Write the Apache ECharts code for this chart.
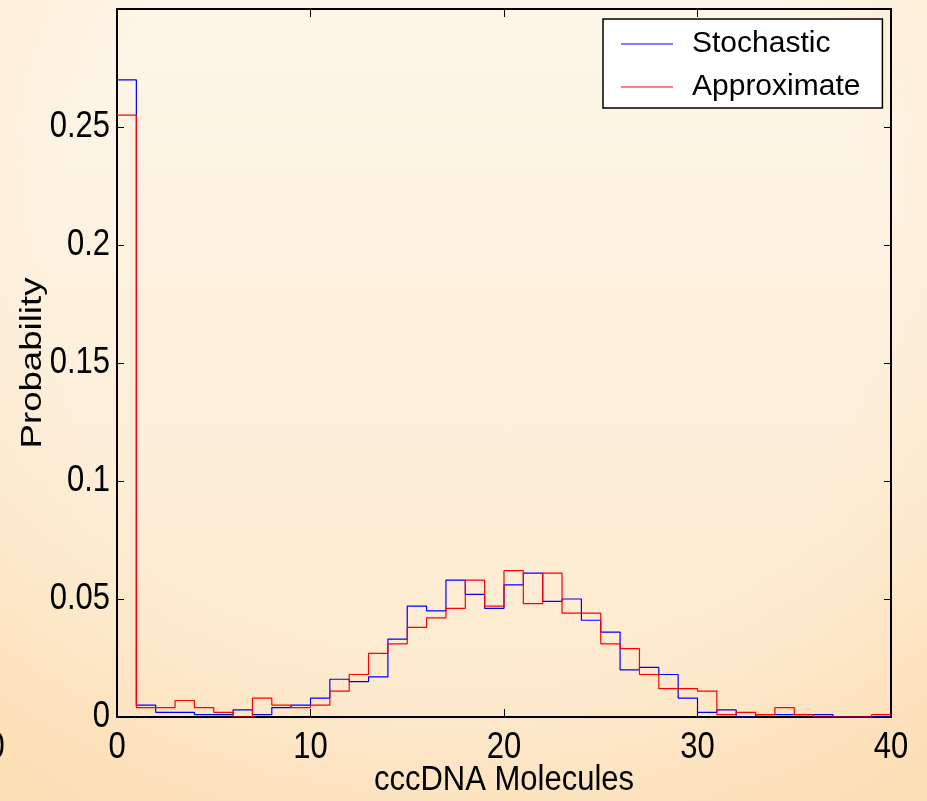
<!DOCTYPE html>
<html>
<head>
<meta charset="utf-8">
<script src="https://cdn.jsdelivr.net/npm/echarts@6/dist/echarts.min.js"></script>
<style>
  html, body { margin: 0; padding: 0; }
  body {
    width: 927px; height: 801px; overflow: hidden;
    background:
      radial-gradient(ellipse 75% 80% at 50% 35%, rgba(255,255,255,0) 60%, rgba(250,205,140,0.35) 100%),
      linear-gradient(to bottom, #fef6e9 0%, #fdf0dc 45%, #fde9cc 100%);
  }
  #chart { width: 927px; height: 801px; }
</style>
</head>
<body>
<div id="chart"></div>
<script>
// Histogram of cccDNA copy number: one bin per molecule count (bin k covers [k, k+1))
const molecules = [0, 1, 2, 3, 4, 5, 6, 7, 8, 9, 10, 11, 12, 13, 14, 15, 16, 17, 18, 19,
                   20, 21, 22, 23, 24, 25, 26, 27, 28, 29, 30, 31, 32, 33, 34, 35, 36, 37, 38, 39];

const stochastic = [0.270, 0.005, 0.002, 0.002, 0.001, 0.001, 0.003, 0.001, 0.004, 0.005,
                    0.008, 0.016, 0.015, 0.017, 0.033, 0.047, 0.045, 0.058, 0.052, 0.046,
                    0.056, 0.061, 0.049, 0.050, 0.041, 0.036, 0.020, 0.021, 0.018, 0.008,
                    0.002, 0.003, 0.000, 0.001, 0.001, 0.001, 0.001, 0.000, 0.000, 0.000];

const approximate = [0.255, 0.004, 0.004, 0.007, 0.004, 0.002, 0.000, 0.008, 0.005, 0.004,
                     0.005, 0.011, 0.018, 0.027, 0.031, 0.038, 0.042, 0.046, 0.058, 0.047,
                     0.062, 0.048, 0.061, 0.044, 0.044, 0.031, 0.029, 0.018, 0.012, 0.012,
                     0.011, 0.001, 0.002, 0.001, 0.004, 0.001, 0.000, 0.000, 0.000, 0.001];

const xTicks = [0, 10, 20, 30, 40];
const yTicks = [0, 0.05, 0.1, 0.15, 0.2, 0.25];
const yTickLabels = ['0', '0.05', '0.1', '0.15', '0.2', '0.25'];

const FONT = '"Liberation Sans", Arial, Helvetica, sans-serif';
const TICK_FONT = '31px ' + FONT;
const TALL = 1.18;   // tick digits are drawn slightly elongated vertically

// stairs: each bin drawn as a flat segment from its left edge to its right edge
function stairs(values) {
  const pts = molecules.map((m, i) => [m, values[i]]);
  pts.push([molecules[molecules.length - 1] + 1, values[values.length - 1]]);
  return pts;
}

const frameAxis = {
  axisLine: { show: true, onZero: false, lineStyle: { color: '#000', width: 2 } },
  axisLabel: { show: false },
  splitLine: { show: false }
};
const xTick = { show: true, inside: true, length: 8, lineStyle: { color: '#000', width: 1 } };
const yTick = { show: true, inside: true, length: 7, lineStyle: { color: '#000', width: 1 } };

const chart = echarts.init(document.getElementById('chart'), null, { renderer: 'canvas' });
chart.setOption({
  animation: false,
  backgroundColor: 'transparent',
  grid: { left: 117, right: 36, top: 9, bottom: 84, containLabel: false, outerBoundsMode: 'none' },
  xAxis: [
    Object.assign({}, frameAxis, {
      type: 'value', position: 'bottom', min: 0, max: 40, interval: 10, axisTick: xTick
    }),
    Object.assign({}, frameAxis, {
      type: 'value', position: 'top', min: 0, max: 40, interval: 10, axisTick: xTick
    })
  ],
  yAxis: [
    Object.assign({}, frameAxis, {
      type: 'value', position: 'left', min: 0, max: 0.3, interval: 0.05, axisTick: yTick
    }),
    Object.assign({}, frameAxis, {
      type: 'value', position: 'right', min: 0, max: 0.3, interval: 0.05, axisTick: yTick
    })
  ],
  legend: {
    orient: 'vertical', left: 603, top: 19,
    padding: [10, 22, 6, 18], itemGap: 13,
    itemWidth: 52, itemHeight: 1,
    backgroundColor: '#ffffff', borderColor: '#000', borderWidth: 1.5, borderRadius: 0,
    icon: 'rect',
    textStyle: { color: '#000', fontFamily: FONT, fontSize: 30, lineHeight: 30, padding: [0, 0, 0, 14] },
    data: ['Stochastic', 'Approximate']
  },
  series: [
    {
      name: 'Stochastic', type: 'line', step: 'end', symbol: 'none',
      xAxisIndex: 0, yAxisIndex: 0,
      lineStyle: { color: '#0000ff', width: 1.2 }, itemStyle: { color: '#0000ff' },
      data: stairs(stochastic)
    },
    {
      name: 'Approximate', type: 'line', step: 'end', symbol: 'none',
      xAxisIndex: 0, yAxisIndex: 0,
      lineStyle: { color: '#ff0000', width: 1.2 }, itemStyle: { color: '#ff0000' },
      data: stairs(approximate)
    }
  ]
});

// Tick labels placed through the axis scales, drawn slightly taller than wide
const x0 = chart.convertToPixel({ xAxisIndex: 0 }, 0);
const x40 = chart.convertToPixel({ xAxisIndex: 0 }, 40);
const y0 = chart.convertToPixel({ yAxisIndex: 0 }, 0);
const yTop = chart.convertToPixel({ yAxisIndex: 0 }, 0.3);
const labels = [];
xTicks.forEach(v => {
  labels.push({
    type: 'text', x: chart.convertToPixel({ xAxisIndex: 0 }, v), y: y0 + 31, scaleY: TALL, silent: true,
    style: { text: String(v), fill: '#000', font: TICK_FONT, textAlign: 'center', textVerticalAlign: 'middle' }
  });
});
yTicks.forEach((v, i) => {
  labels.push({
    type: 'text', x: x0 - 7, y: chart.convertToPixel({ yAxisIndex: 0 }, v), scaleY: TALL, silent: true,
    style: { text: yTickLabels[i], fill: '#000', font: TICK_FONT, textAlign: 'right', textVerticalAlign: 'middle' }
  });
});
// stray leading "0" at the far left edge, on the same row as the x tick labels
labels.push({
  type: 'text', x: -4, y: y0 + 31, scaleY: TALL, silent: true,
  style: { text: '0', fill: '#000', font: TICK_FONT, textAlign: 'center', textVerticalAlign: 'middle' }
});
// axis titles
labels.push({
  type: 'text', x: (x0 + x40) / 2, y: y0 + 63, scaleY: 1.12, silent: true,
  style: { text: 'cccDNA Molecules', fill: '#000', font: '31px ' + FONT, textAlign: 'center', textVerticalAlign: 'middle' }
});
labels.push({
  type: 'text', x: 33, y: (y0 + yTop) / 2, rotation: Math.PI / 2, scaleX: 1.22, silent: true,
  style: { text: 'Probability', fill: '#000', font: '30px ' + FONT, textAlign: 'center', textVerticalAlign: 'middle' }
});
chart.setOption({ graphic: labels });
</script>
</body>
</html>
